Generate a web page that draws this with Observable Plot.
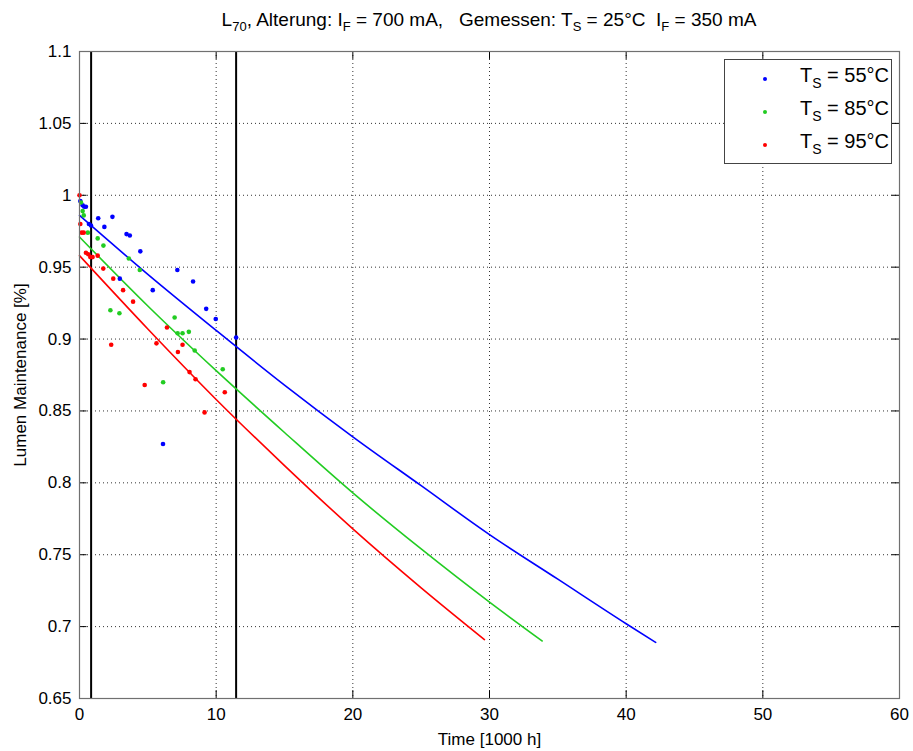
<!DOCTYPE html>
<html>
<head>
<meta charset="utf-8">
<script src="https://cdn.jsdelivr.net/npm/d3@7"></script>
<script src="https://cdn.jsdelivr.net/npm/@observablehq/plot@0.6"></script>
<style>
  body { margin: 0; background: #fff; font-family: "Liberation Sans", Arial, sans-serif; }
  #wrap { position: relative; width: 913px; height: 751px; }
  #wrap svg text { font-size: 17px; }
  #title { position: absolute; left: 79px; width: 820px; top: 9px; text-align: center; font-size: 19px; color: #000; white-space: pre; }
  #title sub { font-size: 13px; vertical-align: -5px; line-height: 0; }
  #legend { position: absolute; left: 724px; top: 59px; width: 166px; height: 103px; border: 1px solid #444; background: #fff; }
  .entry { position: absolute; left: 0; height: 30px; width: 166px; }
  .entry .mk { position: absolute; left: 38px; width: 4px; height: 4px; top: 13px; border-radius: 2px; }
  .entry .tx { position: absolute; left: 75px; top: 0px; font-size: 20px; white-space: pre; }
  .entry sub { font-size: 14px; vertical-align: -6px; line-height: 0; }
</style>
</head>
<body>
<div id="wrap">
  <div id="title">L<sub>70</sub>, Alterung: I<sub>F</sub> = 700 mA,   Gemessen: T<sub>S</sub> = 25°C  I<sub>F</sub> = 350 mA</div>
  <div id="legend"></div>
</div>
<script>
// ---- data ----
const seriesNames = ["T_S = 55°C", "T_S = 85°C", "T_S = 95°C"];
const seriesLabels = ["55°C", "85°C", "95°C"];
const seriesColors = ["#0000ff", "#22cc22", "#ff0000"];

const blueT = [0.06,0.23,0.35,0.47,0.69,0.84,1.37,1.82,2.41,2.95,3.44,3.68,4.45,5.36,6.11,7.16,8.31,9.27,9.97,11.46];
const blueY = [0.996,0.993,0.992,0.992,0.980,0.979,0.984,0.978,0.985,0.942,0.973,0.972,0.961,0.934,0.827,0.948,0.940,0.921,0.914,0.901];

const greenT = [0.11,0.23,0.31,0.61,1.33,1.75,2.26,2.92,3.61,4.41,6.12,6.96,7.18,7.54,8.00,8.43,10.48];
const greenY = [0.995,0.989,0.986,0.974,0.970,0.965,0.920,0.918,0.956,0.948,0.870,0.915,0.904,0.904,0.905,0.892,0.879];

const redT = [0.0,0.06,0.16,0.31,0.47,0.64,0.79,0.96,1.33,1.74,2.32,2.47,3.19,3.92,4.77,5.63,6.40,7.20,7.54,8.05,8.49,9.15,10.63];
const redY = [1.0,0.980,0.974,0.974,0.960,0.959,0.957,0.957,0.958,0.949,0.896,0.942,0.934,0.926,0.868,0.897,0.908,0.891,0.896,0.877,0.872,0.849,0.863];

const fitBlueT = [0,5,10,15,20,25,30,35,40,42.16];
const fitBlueY = [0.986,0.945,0.906,0.868,0.832,0.798,0.764,0.733,0.702,0.689];
const fitGreenT = [0,5,10,15,20,25,30,33.85];
const fitGreenY = [0.971,0.923,0.878,0.835,0.793,0.754,0.717,0.690];
const fitRedT = [0,5,10,15,20,25,29.63];
const fitRedY = [0.958,0.907,0.858,0.812,0.768,0.727,0.691];

const markerT = [0.85, 11.46];

const xTicks = [0,10,20,30,40,50,60];
const yTicks = [0.65,0.7,0.75,0.8,0.85,0.9,0.95,1,1.05,1.1];

// ---- build tables ----
const pts = [];
[[blueT, blueY, 0], [greenT, greenY, 1], [redT, redY, 2]].forEach(([T, Y, s]) =>
  T.forEach((t, i) => pts.push({t, y: Y[i], s: seriesNames[s]})));
const fits = [];
[[fitBlueT, fitBlueY, 0], [fitGreenT, fitGreenY, 1], [fitRedT, fitRedY, 2]].forEach(([T, Y, s]) =>
  T.forEach((t, i) => fits.push({t, y: Y[i], s: seriesNames[s]})));

const fmt = d => String(+d.toFixed(2));

const chart = Plot.plot({
  width: 913,
  height: 751,
  marginLeft: 79,
  marginRight: 14,
  marginTop: 51,
  marginBottom: 53,
  style: {fontFamily: "'Liberation Sans', Arial, sans-serif", fontSize: "17px", color: "#000", background: "transparent"},
  x: {domain: [0, 60], ticks: xTicks},
  y: {domain: [0.65, 1.1], ticks: yTicks},
  color: {domain: seriesNames, range: seriesColors},
  marks: [
    Plot.gridX(xTicks, {stroke: "#000", strokeOpacity: 0.8, strokeDasharray: "1,3"}),
    Plot.gridY(yTicks, {stroke: "#000", strokeOpacity: 0.8, strokeDasharray: "1,3"}),
    // inner ticks
    Plot.ruleY(yTicks, {x1: 0, x2: 0.55, stroke: "#000"}),
    Plot.ruleY(yTicks, {x1: 59.45, x2: 60, stroke: "#000"}),
    Plot.ruleX(xTicks, {y1: 0.65, y2: 0.6555, stroke: "#000"}),
    Plot.ruleX(xTicks, {y1: 1.0945, y2: 1.1, stroke: "#000"}),
    Plot.ruleX(markerT, {stroke: "#000", strokeWidth: 2}),
    Plot.line(fits, {x: "t", y: "y", z: "s", stroke: "s", strokeWidth: 1.6, curve: "monotone-x"}),
    Plot.dot(pts, {x: "t", y: "y", fill: "s", r: 2.3}),
    Plot.frame({stroke: "#707070", strokeWidth: 1.2}),
    Plot.axisX(xTicks, {tickSize: 0, tickPadding: 9, tickFormat: fmt, fontSize: 17,
      label: "Time [1000 h]", labelAnchor: "center", labelOffset: 46, labelArrow: "none"}),
    Plot.axisY(yTicks, {tickSize: 0, tickPadding: 8, tickFormat: fmt, fontSize: 17,
      label: "Lumen Maintenance [%]", labelAnchor: "center", labelOffset: 66, labelArrow: "none"})
  ]
});
const wrap = document.getElementById("wrap");
wrap.insertBefore(chart, wrap.firstChild);

// legend
const legend = document.getElementById("legend");
seriesLabels.forEach((lab, i) => {
  const e = document.createElement("div");
  e.className = "entry";
  e.style.top = (4 + i * 33) + "px";
  e.innerHTML = `<span class="mk" style="background:${seriesColors[i]}"></span><span class="tx">T<sub>S</sub> = ${lab}</span>`;
  legend.appendChild(e);
});
</script>
</body>
</html>
